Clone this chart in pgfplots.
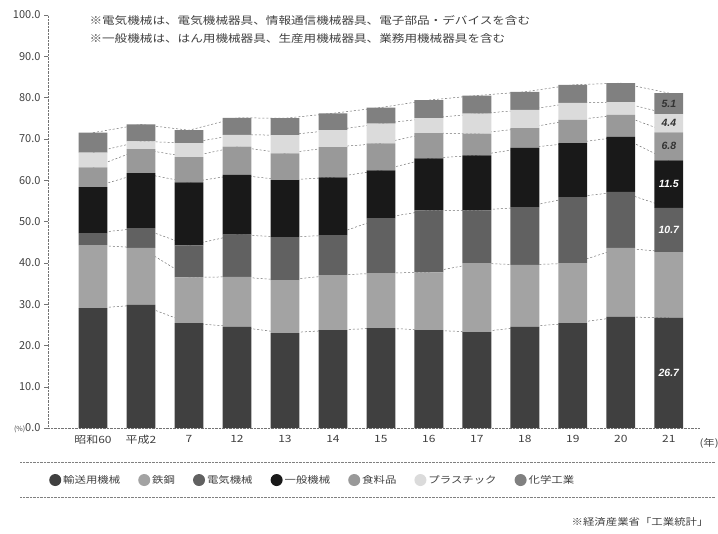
\documentclass[border=0pt]{standalone}
\usepackage{fontspec}
\setmainfont{Noto Sans CJK JP}
\newfontfamily\jp[FakeStretch=1.2]{Noto Sans CJK JP}
\newfontfamily\lab{Liberation Sans}
\usepackage{pgfplots}
\usepackage{pgfplotstable}
\pgfplotsset{compat=1.18}

% shares of shipments (%)
\pgfplotstableread{
x yuso tekko denki ippan shoku pura kagaku
0  29.0 15.3  2.9 11.1 4.8 3.6 4.8
1  29.8 13.8  4.8 13.3 5.8 1.9 4.1
2  25.4 11.1  7.7 15.3 6.1 3.4 3.1
3  24.5 12.1 10.2 14.5 6.8 2.9 4.1
4  23.0 12.8 10.4 13.8 6.5 4.4 4.1
5  23.7 13.3  9.7 14.0 7.3 4.1 4.1
6  24.2 13.3 13.3 11.6 6.5 4.8 3.9
7  23.7 14.0 15.0 12.6 6.1 3.6 4.4
8  23.2 16.7 12.8 13.3 5.3 4.8 4.4
9  24.5 15.0 14.0 14.3 4.8 4.4 4.4
10 25.4 14.5 16.0 13.1 5.6 4.1 4.4
11 26.9 16.7 13.6 13.3 5.3 3.1 4.6
12 26.7 15.9 10.7 11.5 6.8 4.4 5.1
}\shares

\definecolor{cYuso}{gray}{0.25}
\definecolor{cTekko}{gray}{0.64}
\definecolor{cDenki}{gray}{0.38}
\definecolor{cIppan}{gray}{0.10}
\definecolor{cShoku}{gray}{0.60}
\definecolor{cPura}{gray}{0.86}
\definecolor{cKagaku}{gray}{0.50}

\tikzset{vlab/.style={font=\lab\bfseries\itshape\fontsize{10.5}{11}\selectfont}}
\pgfplotsset{
  base/.style={width=652pt, height=413pt, scale only axis,
    xmin=-0.9375, xmax=12.65, ymin=0, ymax=100,
    at={(48pt,-428pt)}, anchor=south west},
  seriesline/.style={black!55, dashed, dash pattern=on 2pt off 2pt, line width=0.5pt},
}

\begin{document}
\begin{tikzpicture}
% series lines behind the bars
\begin{axis}[base, axis lines=none, ticks=none]
\addplot[seriesline] table[x=x, y expr=\thisrow{yuso}] {\shares};
\addplot[seriesline] table[x=x, y expr=\thisrow{yuso}+\thisrow{tekko}] {\shares};
\addplot[seriesline] table[x=x, y expr=\thisrow{yuso}+\thisrow{tekko}+\thisrow{denki}] {\shares};
\addplot[seriesline] table[x=x, y expr=\thisrow{yuso}+\thisrow{tekko}+\thisrow{denki}+\thisrow{ippan}] {\shares};
\addplot[seriesline] table[x=x, y expr=\thisrow{yuso}+\thisrow{tekko}+\thisrow{denki}+\thisrow{ippan}+\thisrow{shoku}] {\shares};
\addplot[seriesline] table[x=x, y expr=\thisrow{yuso}+\thisrow{tekko}+\thisrow{denki}+\thisrow{ippan}+\thisrow{shoku}+\thisrow{pura}] {\shares};
\addplot[seriesline] table[x=x, y expr=\thisrow{yuso}+\thisrow{tekko}+\thisrow{denki}+\thisrow{ippan}+\thisrow{shoku}+\thisrow{pura}+\thisrow{kagaku}] {\shares};
\end{axis}

\begin{axis}[base,
    ybar stacked, bar width=0.6,
    axis x line*=bottom, axis y line*=left,
    axis line style={densely dotted, black!55, -},
    xtick={0,...,12},
    xticklabels={昭和60,平成2,7,12,13,14,15,16,17,18,19,20,21},
    xtick style={draw=none},
    ytick={0,10,...,100},
    yticklabels={{\scriptsize(\%)}0.0,10.0,20.0,30.0,40.0,50.0,60.0,70.0,80.0,90.0,100.0},
    ytick style={black!55},
    tick align=outside, major tick length=4pt,
    tick label style={black!75, font=\fontsize{11}{12}\selectfont},
    xticklabel style={font=\jp\fontsize{10}{12}\selectfont},
    legend style={draw=none, fill=none, at={(-0.003,-0.126)}, anchor=west,
      legend columns=7, text=black!75, font=\jp\fontsize{9.5}{11}\selectfont,
      /tikz/every even column/.append style={column sep=16pt}},
    legend image code/.code={\fill[#1] (4pt,0pt) circle (6pt);},
  ]
\addplot[fill=cYuso, draw=none] table[x=x, y=yuso] {\shares};
\addplot[fill=cTekko, draw=none] table[x=x, y=tekko] {\shares};
\addplot[fill=cDenki, draw=none] table[x=x, y=denki] {\shares};
\addplot[fill=cIppan, draw=none] table[x=x, y=ippan] {\shares};
\addplot[fill=cShoku, draw=none] table[x=x, y=shoku] {\shares};
\addplot[fill=cPura, draw=none] table[x=x, y=pura] {\shares};
\addplot[fill=cKagaku, draw=none] table[x=x, y=kagaku] {\shares};
\legend{輸送用機械,鉄鋼,電気機械,一般機械,食料品,プラスチック,化学工業}
\end{axis}

% value labels on the last bar, drawn above the bars
\begin{axis}[base, axis lines=none, ticks=none, clip=false]
\node[vlab, white] at (axis cs:12,13.35) {26.7};
\node[vlab, white] at (axis cs:12,48.0) {10.7};
\node[vlab, white] at (axis cs:12,59.05) {11.5};
\node[vlab, black!80] at (axis cs:12,68.2) {6.8};
\node[vlab, black!80] at (axis cs:12,73.8) {4.4};
\node[vlab, black!80] at (axis cs:12,78.55) {5.1};
\end{axis}

\node[anchor=west, black!75, font=\jp\fontsize{9.5}{11}\selectfont] at (696pt,-443pt) {(年)};
\node[anchor=west, black!75, font=\jp\fontsize{10.5}{12}\selectfont] at (86pt,-20pt)
  {※電気機械は、電気機械器具、情報通信機械器具、電子部品・デバイスを含む};
\node[anchor=west, black!75, font=\jp\fontsize{10.5}{12}\selectfont] at (86pt,-39pt)
  {※一般機械は、はん用機械器具、生産用機械器具、業務用機械器具を含む};
\draw[black!50, densely dotted] (20pt,-462pt) -- (715pt,-462pt);
\draw[black!50, densely dotted] (20pt,-497pt) -- (715pt,-497pt);
\node[anchor=east, black!75, font=\jp\fontsize{9.5}{11}\selectfont] at (712pt,-522pt)
  {※経済産業省「工業統計」};

\pgfresetboundingbox
\path (0pt,0pt) rectangle (718pt,-534pt);
\end{tikzpicture}
\end{document}
